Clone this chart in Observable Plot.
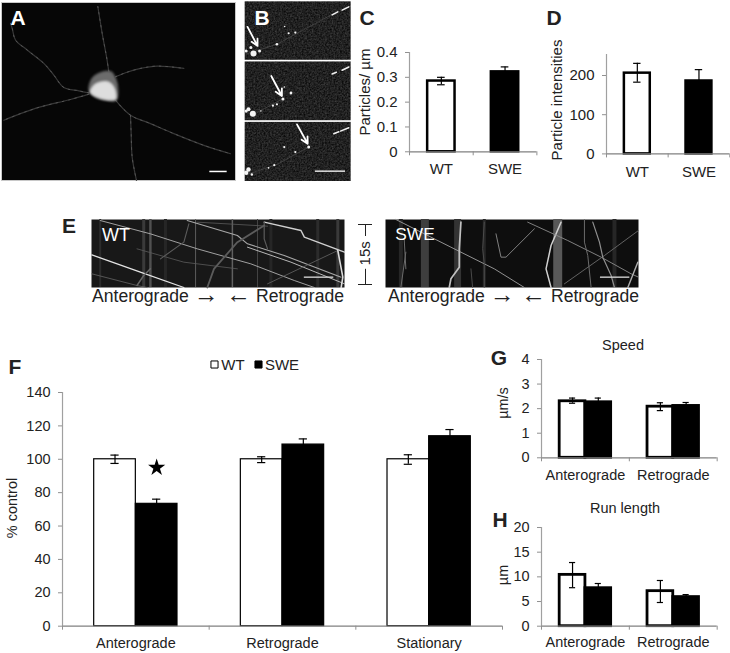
<!DOCTYPE html>
<html>
<head>
<meta charset="utf-8">
<script src="https://cdn.jsdelivr.net/npm/d3@7"></script>
<script src="https://cdn.jsdelivr.net/npm/@observablehq/plot@0.6"></script>
<style>
html,body{margin:0;padding:0;background:#fff}
#root{position:relative;width:730px;height:653px;overflow:hidden;font-family:"Liberation Sans",Arial,sans-serif;color:#222}
#root svg{position:absolute;overflow:visible;background:transparent;font-family:"Liberation Sans",Arial,sans-serif}
.lab{position:absolute;white-space:nowrap;transform:translate(-50%,-50%);line-height:1}
.lab span{font-size:25px;line-height:0;vertical-align:-1px}
</style>
</head>
<body>
<svg width="0" height="0" style="position:absolute">
  <filter id="grain" x="0" y="0" width="100%" height="100%" color-interpolation-filters="sRGB">
    <feTurbulence type="fractalNoise" baseFrequency="0.6" numOctaves="2" seed="4"/>
    <feColorMatrix values="0.3 0 0 0 -0.02  0.3 0 0 0 -0.02  0.3 0 0 0 -0.02  0 0 0 0 1"/>
    <feComposite operator="in" in2="SourceGraphic"/>
  </filter>
</svg>
<div id="root"></div>
<script>
// ---------- bar chart values ----------
const genotypes = ["WT", "SWE"];
const cCategories = ["WT", "SWE"];
const cValues = [0.285, 0.322];
const cLow = [0.27, 0.31];
const cHigh = [0.30, 0.342];
const dCategories = ["WT", "SWE"];
const dValues = [206, 186];
const dLow = [183, 161];
const dHigh = [231, 215];
const fCategories = ["Anterograde", "Retrograde", "Stationary"];
const fWT = [100, 100, 100];
const fWTLow = [97.5, 98, 97];
const fWTHigh = [102.5, 101.5, 102.7];
const fSWE = [73.3, 108.8, 113.8];
const fSWELow = [70.5, 105.4, 109.8];
const fSWEHigh = [76.1, 112.2, 117.8];
const gCategories = ["Anterograde", "Retrograde"];
const gWT = [2.3, 2.08];
const gWTLow = [2.22, 1.92];
const gWTHigh = [2.43, 2.24];
const gSWE = [2.26, 2.11];
const gSWELow = [2.15, 2.03];
const gSWEHigh = [2.43, 2.25];
const hWT = [10.4, 7.1];
const hWTLow = [7.8, 4.8];
const hWTHigh = [12.9, 9.26];
const hSWE = [7.7, 5.9];
const hSWELow = [6.9, 5.5];
const hSWEHigh = [8.65, 6.4];

// ---------- photo panels, traced in picture units ----------
const neurites = [
  [[265,278],[235,272],[190,262],[160,225],[130,190],[80,150],[45,120],[35,85],[30,70]],
  [[325,215],[318,170],[305,100],[292,20]],
  [[345,230],[375,218],[420,205],[470,198],[550,205]],
  [[265,282],[210,298],[120,320],[60,340],[10,360]],
  [[345,300],[390,345],[450,370],[520,400],[610,435],[690,460]],
  [[390,345],[392,400],[395,470],[408,540]]
];
const somaOuter = [[266,272],[275,235],[295,220],[330,215],[345,235],[352,270],[347,300],[320,300],[288,292]];
const somaInner = [[270,275],[285,252],[320,245],[340,262],[345,296],[320,298],[285,288]];
const bSpots = [
  [760,158,3],[752,140,1.5],[778,150,1.5],[738,150,1.5],[830,130,1.3],[853,77,.8],[865,97,1.1],[885,95,1.1],
  [758,338,3],[745,325,2],[738,330,1.6],[852,258,.8],[872,276,1.4],[848,294,1.5],[830,310,1.1],[818,314,1.1],[782,330,.8],
  [925,438,1.5],[852,438,1.1],[885,453,1.1],[822,492,1.1],[805,500,.9],[745,505,2.2],[738,515,2.2],[755,520,1.2]
];
const bStreaks = [
  [[995,42],[1012,33]],[[1025,28],[1045,18]],
  [[995,219],[1008,214]],[[1025,208],[1045,198]],
  [[1000,398],[1015,392]],[[1020,390],[1045,380]]
];
const bFaint = [[[737,160],[830,130],[900,92],[1000,38]],[[770,335],[850,292]],[[740,520],[830,490],[925,438]]];
const bFrames = [[3,178],[183,359],[364,541]];
const bArrows = [[742,78,772,135],[813,225,845,285],[890,370,922,428]];
// each trace: gray level, width, points
const wtTraces = [
  ["#b0b0b0",.9,[[150,45],[300,85],[440,130],[600,175],[730,225],[790,246]]],
  ["#e4e4e4",1.2,[[125,148],[270,200],[400,246]]],
  ["#a8a8a8",1.1,[[410,45],[560,90],[590,115],[700,150],[870,215]]],
  ["#d0d0d0",1.4,[[640,50],[750,75],[760,95],[880,140]]],
  ["#666",.8,[[125,205],[260,240],[290,246]]],
  ["#b8b8b8",1,[[590,125],[720,170],[880,235]]],
  ["#5c5c5c",.8,[[440,50],[650,62]]],
  ["#5c5c5c",.8,[[260,130],[400,170],[560,190]]],
  ["#666",.8,[[650,235],[860,135]]],
  ["#5c5c5c",1.1,[[330,160],[400,110],[415,55]]],
  ["#5c5c5c",1.8,[[470,246],[490,190],[560,110],[640,60]]],
  ["#5c5c5c",1.2,[[640,50],[640,100],[650,130]]],
  ["#666",1.5,[[260,240],[280,210],[300,190]]],
  ["#ddd",1.6,[[860,135],[875,215],[870,246]]]
];
const wtBands = [["#3a3a3a",3,280],["#505050",2.5,300],["#5c5c5c",1,435],["#606060",1.5,545],["#444",1,620],["#3a3a3a",3,860],["#2c2c2c",3,800],["#2c2c2c",2,150],["#262626",3,345],["#262626",3,660]];
const sweTraces = [
  ["#a0a0a0",.9,[[135,42],[300,125],[400,175],[430,190],[520,246]]],
  ["#c0c0c0",1.7,[[330,50],[325,130],[325,185],[300,220],[295,246]]],
  ["#6c6c6c",1,[[165,140],[150,246]]],
  ["#6c6c6c",1,[[160,100],[165,190]]],
  ["#d0d0d0",1.5,[[630,50],[600,120],[585,190],[600,246]]],
  ["#8c8c8c",.9,[[530,50],[650,105],[750,155],[840,205],[862,215]]],
  ["#6c6c6c",.9,[[862,75],[760,150],[640,235]]],
  ["#808080",1,[[435,85],[450,155],[465,155],[550,70]]],
  ["#505050",.9,[[400,50],[395,130],[400,175],[400,246]]],
  ["#6c6c6c",1,[[700,42],[700,110],[710,150],[720,246]]],
  ["#909090",1.2,[[725,50],[745,110],[755,155],[780,210],[790,246]]],
  ["#b0b0b0",1.4,[[860,170],[830,246]]],
  ["#505050",.9,[[360,190],[365,246]]]
];
const sweBands = [["#3e3e3e",8,222],["#585858",9,620],["#333",7,320],["#262626",4,790],["#262626",4,150],["#262626",3,400]];

const root = document.getElementById("root");
const FONT = "Liberation Sans";

function label(text, x, y, o = {}) {
  const d = document.createElement("div");
  d.className = "lab";
  if (o.arrow) {
    // the arrow glyph is drawn larger than the word
    const s = document.createElement("span");
    s.textContent = o.arrow === "after" ? "→" : "←";
    if (o.arrow === "after") { d.append(text + " ", s); } else { d.append(s, " " + text); }
  } else {
    d.textContent = text;
  }
  d.style.left = x + "px";
  d.style.top = y + "px";
  d.style.fontSize = (o.size || 15) + "px";
  d.style.color = o.color || "#222";
  if (o.bold) d.style.fontWeight = "bold";
  if (o.rotate) d.style.transform = `translate(-50%,-50%) rotate(${o.rotate}deg)`;
  if (o.align === "left") d.style.transform = "translate(0,-50%)";
  if (o.align === "right") d.style.transform = "translate(-100%,-50%)";
  root.appendChild(d);
}

function place(svg, left, top) {
  svg.style.left = left + "px";
  svg.style.top = top + "px";
  root.appendChild(svg);
}

function zip(cats, wt, wl, wh, sw, sl, sh) {
  const rows = [];
  cats.forEach((c, i) => {
    rows.push({i, g: "WT", v: wt[i], lo: wl[i], hi: wh[i]});
    rows.push({i, g: "SWE", v: sw[i], lo: sl[i], hi: sh[i]});
  });
  return rows;
}

function barPanel(o) {
  const n = o.cats.length;
  const ml = 50, mr = 6, mt = 6, mb = 30;
  const W = o.x1 - o.x0, H = o.y0 - o.yTop;
  const left = r => o.paired
    ? r.i + .5 - (r.g === "WT" ? o.barFrac : 0)
    : r.i + .5 - o.barFrac / 2;
  const right = r => left(r) + o.barFrac;
  const mid = r => (left(r) + right(r)) / 2;
  const cap = o.cap;
  const marks = [
    Plot.rectY(o.rows, {
      x1: left, x2: right, y1: 0, y2: "v",
      fill: r => r.g === "WT" ? "#fff" : "#000",
      stroke: "#000", strokeWidth: o.barStroke, inset: 0
    }),
    Plot.ruleX(o.rows, {x: mid, y1: "lo", y2: "hi", stroke: "#000", strokeWidth: 1.2}),
    Plot.ruleY(o.rows, {y: "hi", x1: r => mid(r) - cap, x2: r => mid(r) + cap, stroke: "#000", strokeWidth: 1.2}),
    Plot.ruleY(o.rows, {y: "lo", x1: r => mid(r) - cap, x2: r => mid(r) + cap, stroke: "#000", strokeWidth: 1.2}),
    Plot.ruleX([0], {stroke: "#a0a0a0", strokeWidth: 1.2}),
    Plot.ruleY([0], {stroke: "#808080", strokeWidth: 1.2}),
    Plot.axisY({ticks: o.ticks, tickSize: 4, tickPadding: o.tickPadding ?? 8, stroke: "#909090", fill: "#222", fontSize: o.tickFont, label: null, tickFormat: o.tickFormat || (d => String(d))}),
    Plot.axisX({ticks: d3.range(n + 1), tickSize: 4, stroke: "#909090", tickFormat: () => "", label: null}),
    Plot.axisX({ticks: d3.range(n).map(i => i + .5), tickSize: 0, tickPadding: o.catPad, fill: "#222", fontSize: o.catFont, label: null, tickFormat: d => o.cats[d - .5]})
  ];
  if (o.extra) marks.push(...o.extra);
  const svg = Plot.plot({
    width: W + ml + mr, height: H + mt + mb,
    marginLeft: ml, marginRight: mr, marginTop: mt, marginBottom: mb,
    style: {fontFamily: FONT, background: "transparent", overflow: "visible"},
    x: {domain: [0, n], axis: null},
    y: {domain: o.domain, axis: null},
    marks
  });
  place(svg, o.x0 - ml, o.yTop - mt);
}

function photo(o, marks) {
  const svg = Plot.plot({
    width: o.w, height: o.h, margin: 0,
    style: {background: "transparent", overflow: "visible"},
    x: {domain: o.xd, axis: null},
    y: {domain: o.yd, axis: null},
    r: {type: "identity"},
    marks
  });
  place(svg, o.left, o.top);
}

const traceRows = list => list.flatMap(([c, w, pts], k) => pts.map(p => ({k, c, w, x: p[0], y: p[1]})));
const pathRows = list => list.flatMap((pts, k) => pts.map(p => ({k, x: p[0], y: p[1]})));
const soft = "blur(0.5px)";

// ----- A -----
photo({left: 1, top: 2, w: 234, h: 178, xd: [3, 705], yd: [540, 8]}, [
  Plot.frame({fill: "#060606", stroke: "#c8c8c8", strokeWidth: 1}),
  Plot.line(pathRows(neurites), {x: "x", y: "y", z: "k", stroke: "#383838", strokeWidth: 1.2, curve: "catmull-rom", imageFilter: soft}),
  Plot.line(pathRows(neurites), {x: "x", y: "y", z: "k", stroke: "#606060", strokeWidth: .8, strokeDasharray: "1.5,5", curve: "catmull-rom", imageFilter: "blur(0.4px)"}),
  Plot.line(somaOuter, {x: "0", y: "1", fill: "#6c6c6c", stroke: "#5c5c5c", curve: "catmull-rom-closed", imageFilter: "blur(0.8px)"}),
  Plot.line(somaInner, {x: "0", y: "1", fill: "#dedede", stroke: "#ccc", curve: "catmull-rom-closed", imageFilter: "blur(0.8px)"}),
  Plot.ruleY([513], {x1: 628, x2: 680, stroke: "#fff", strokeWidth: 1.5})
]);

// ----- B -----
photo({left: 244, top: 1, w: 107, h: 180, xd: [733, 1053], yd: [541, 2]}, [
  Plot.rect(bFrames, {x1: 735, x2: 1052, y1: "0", y2: "1", fill: "#2a2a2a", imageFilter: "url(#grain)"}),
  Plot.line(pathRows(bFaint), {x: "x", y: "y", z: "k", stroke: "#4c4c4c", strokeWidth: .7, imageFilter: soft}),
  Plot.dot(bSpots, {x: "0", y: "1", r: "2", fill: "#f4f4f4", stroke: null, imageFilter: "blur(0.4px)"}),
  Plot.line(pathRows(bStreaks), {x: "x", y: "y", z: "k", stroke: "#f0f0f0", strokeWidth: 1.5, imageFilter: "blur(0.3px)"}),
  Plot.arrow(bArrows, {x1: "0", y1: "1", x2: "2", y2: "3", stroke: "#fff", strokeWidth: 1.8, headLength: 10, headAngle: 55}),
  Plot.ruleY([510], {x1: 945, x2: 1035, stroke: "#fff", strokeWidth: 1.3})
]);

// ----- C, D -----
const cRows = cCategories.map((c, i) => ({i, g: genotypes[i], v: cValues[i], lo: cLow[i], hi: cHigh[i]}));
barPanel({cats: cCategories, rows: cRows, x0: 409.3, x1: 536.7, y0: 151, yTop: 51.7, domain: [0, .4], ticks: [0, .1, .2, .3, .4],
  tickFormat: d => d === 0 ? "0" : d3.format(".1f")(d), barFrac: .43, barStroke: 2.5, cap: .06, tickFont: 15, catFont: 15, catPad: 12});
const dRows = dCategories.map((c, i) => ({i, g: genotypes[i], v: dValues[i], lo: dLow[i], hi: dHigh[i]}));
barPanel({cats: dCategories, rows: dRows, x0: 605.7, x1: 729, y0: 153.7, yTop: 54.3, domain: [0, 253.6], ticks: [0, 100, 200],
  barFrac: .42, barStroke: 2.5, cap: .06, tickFont: 15, catFont: 15, catPad: 12});

// ----- E -----
function kymo(left, xd, traces, bands, bar, bg) {
  photo({left, top: 219, w: 253, h: 68, xd, yd: [246, 42]}, [
    Plot.frame({fill: bg}),
    Plot.ruleX(bands, {x: "2", stroke: "0", strokeWidth: "1", imageFilter: soft}),
    Plot.line(traceRows(traces), {x: "x", y: "y", z: "k", stroke: "c", strokeWidth: "w", imageFilter: "blur(0.35px)"}),
    Plot.ruleY([215], {x1: bar[0], x2: bar[1], stroke: "#d0d0d0", strokeWidth: 1.4})
  ]);
}
kymo(91, [124, 880], wtTraces, wtBands, [760, 848], "#181818");
kymo(385, [104, 862], sweTraces, sweBands, [748, 836], "#0e0e0e");

// ----- F -----
barPanel({cats: fCategories, rows: zip(fCategories, fWT, fWTLow, fWTHigh, fSWE, fSWELow, fSWEHigh), paired: true,
  x0: 62, x1: 502, y0: 626, yTop: 392.3, domain: [0, 140], ticks: d3.range(0, 141, 20),
  barFrac: .284, barStroke: 1.2, cap: .028, tickFont: 14.5, catFont: 14.5, catPad: 12,
  extra: [Plot.dot([{x: .5 + .142, y: 95}], {x: "x", y: "y", symbol: "star", r: 5.4, fill: "#000", stroke: null})]});

// ----- G, H -----
barPanel({cats: gCategories, rows: zip(gCategories, gWT, gWTLow, gWTHigh, gSWE, gSWELow, gSWEHigh), paired: true,
  x0: 541, x1: 716.7, y0: 457.3, yTop: 359, domain: [0, 4], ticks: [0, 1, 2, 3, 4],
  barFrac: .293, barStroke: 2.8, cap: .035, tickFont: 14.5, catFont: 14.5, catPad: 12});
barPanel({cats: gCategories, rows: zip(gCategories, hWT, hWTLow, hWTHigh, hSWE, hSWELow, hSWEHigh), paired: true,
  x0: 541, x1: 716.7, y0: 626, yTop: 527.3, domain: [0, 20], ticks: [0, 5, 10, 15, 20],
  barFrac: .293, barStroke: 2.8, cap: .035, tickFont: 14.5, catFont: 14.5, catPad: 11});

// ----- text -----
const letters = [["A",18,17,"#fff"],["B",262,17,"#fff"],["C",367,17],["D",554,17],["E",69,225],["F",15,366],["G",499,357],["H",500,519]];
letters.forEach(([t, x, y, c]) => label(t, x, y, {size: 21, bold: true, color: c || "#222"}));
label("Particles/ µm", 364, 92, {size: 15, rotate: -90});
label("Particle intensities", 556, 100, {size: 15, rotate: -90});
label("% control", 12, 508, {size: 14.5, rotate: -90});
label("µm/s", 503, 403, {size: 14.5, rotate: -90});
label("µm", 503, 575, {size: 14.5, rotate: -90});
label("Speed", 623, 345, {size: 14.5});
label("Run length", 625, 508, {size: 14.5});
label("WT", 116, 235, {size: 18, color: "#fff"});
label("SWE", 415, 235, {size: 17.3, color: "#fff"});
label("Anterograde", 92, 297, {size: 17.6, align: "left", arrow: "after"});
label("Retrograde", 344, 297, {size: 17.6, align: "right", arrow: "before"});
label("Anterograde", 388, 297, {size: 17.6, align: "left", arrow: "after"});
label("Retrograde", 639, 297, {size: 17.6, align: "right", arrow: "before"});
label("WT", 233, 364, {size: 15});
label("SWE", 282, 364, {size: 15});

// 15s bracket
const bracketRows = [["15s"]];
const bracket = Plot.plot({
  width: 20, height: 60, margin: 0,
  style: {background: "transparent", overflow: "visible"},
  x: {domain: [-1, 1], axis: null},
  y: {domain: [15, 0], axis: null},
  marks: [
    Plot.ruleX([0], {y1: 0, y2: 3, stroke: "#222"}),
    Plot.ruleX([0], {y1: 11.2, y2: 15, stroke: "#222"}),
    Plot.ruleY([0, 15], {x1: -.7, x2: .7, stroke: "#222"}),
    Plot.text(bracketRows, {x: 0, y: 7.2, text: "0", rotate: -90, fontSize: 15, fill: "#222", fontFamily: FONT})
  ]
});
place(bracket, 355, 224);

// legend swatches
const legend = Plot.plot({
  width: 60, height: 12, margin: 0,
  style: {background: "transparent", overflow: "visible"},
  x: {domain: genotypes, range: [4.5, 48.5], padding: 0, axis: null},
  y: {axis: null, domain: [0, 1]},
  marks: [Plot.dot(genotypes, {x: d => d, y: .5, symbol: "square", r: 4, fill: d => d === "WT" ? "#fff" : "#000", stroke: "#000", strokeWidth: 1})]
});
place(legend, 209, 358);
</script>
</body>
</html>
